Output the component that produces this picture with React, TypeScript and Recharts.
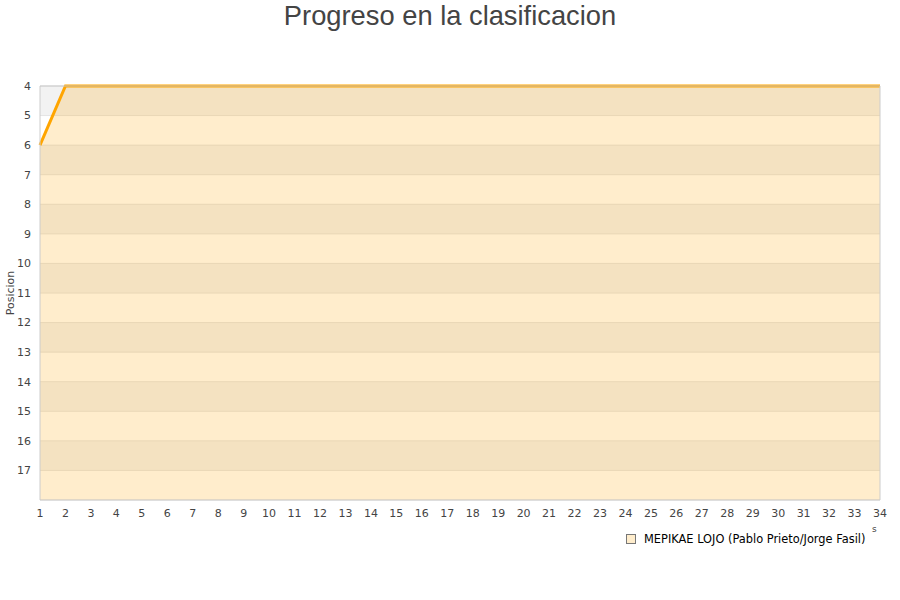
import React from 'react';
import {
  ComposedChart, Area, XAxis, YAxis, CartesianGrid, ReferenceLine, Label
} from 'recharts';

// --- DATA ---
const rounds = [
  1, 2, 3, 4, 5, 6, 7, 8, 9, 10, 11, 12, 13, 14, 15, 16, 17,
  18, 19, 20, 21, 22, 23, 24, 25, 26, 27, 28, 29, 30, 31, 32, 33, 34
];
const positions = [
  6, 4, 4, 4, 4, 4, 4, 4, 4, 4, 4, 4, 4, 4, 4, 4, 4,
  4, 4, 4, 4, 4, 4, 4, 4, 4, 4, 4, 4, 4, 4, 4, 4, 4
];
const yTicks = [4, 5, 6, 7, 8, 9, 10, 11, 12, 13, 14, 15, 16, 17];
const seriesName = 'MEPIKAE LOJO (Pablo Prieto/Jorge Fasil)';
const chartTitle = 'Progreso en la clasificacion';
const yAxisTitle = 'Posicion';

const data = rounds.map((r, i) => ({ round: r, pos: positions[i] }));

const tickStyle = { fontFamily: 'DejaVu Sans', fontSize: 11, fill: '#444' };

const App = () => {
  return (
    <div style={{ position: 'absolute', left: 0, top: 0, width: 900, height: 600, background: '#fff' }}>
      <div
        style={{
          position: 'absolute', left: 0, top: 0, width: 900, textAlign: 'center',
          fontFamily: '"Liberation Sans", Arial, sans-serif', fontSize: 27.3,
          lineHeight: '32px', color: '#444'
        }}
      >
        {chartTitle}
      </div>

      <ComposedChart
        width={900}
        height={600}
        data={data}
        margin={{ top: 86, right: 20, bottom: 70, left: 0 }}
      >
        <CartesianGrid
          vertical={false}
          stroke="#e4e4e4"
          horizontalFill={['#f2f2f2', '#ffffff']}
          fillOpacity={1}
        />
        <XAxis
          dataKey="round"
          type="number"
          domain={[1, 34]}
          ticks={rounds}
          interval={0}
          height={30}
          tickSize={0}
          tickMargin={9}
          tick={tickStyle}
          axisLine={{ stroke: '#ccc' }}
        />
        <YAxis
          type="number"
          domain={[4, 18]}
          reversed
          ticks={yTicks}
          interval={0}
          width={40}
          tickSize={0}
          tickMargin={9}
          tick={tickStyle}
          axisLine={{ stroke: '#ccc' }}
        >
          <Label
            content={(props: any) => {
              const vb = props.viewBox || {};
              const cy = (vb.y || 86) + (vb.height || 414) / 2;
              return (
                <text
                  x={14}
                  y={cy}
                  transform={`rotate(-90, 14, ${cy})`}
                  textAnchor="middle"
                  style={{ fontFamily: 'DejaVu Sans', fontSize: 11, fill: '#444' }}
                >
                  {yAxisTitle}
                </text>
              );
            }}
          />
        </YAxis>
        <ReferenceLine x={34} stroke="#ccc" />
        <Area
          type="linear"
          dataKey="pos"
          name={seriesName}
          baseValue={18}
          stroke="#ffa500"
          strokeWidth={3}
          fill="#ffa500"
          fillOpacity={0.2}
          dot={false}
          activeDot={false}
          isAnimationActive={false}
        />
        <ReferenceLine y={4} stroke="#c8c8c8" strokeWidth={1} zIndex={500} />
      </ComposedChart>

      <div
        style={{
          position: 'absolute', left: 626, top: 532, display: 'flex', alignItems: 'center',
          fontFamily: 'DejaVu Sans', fontSize: 11.4, color: '#000'
        }}
      >
        <span
          style={{
            display: 'inline-block', width: 8, height: 8, background: '#ffedcc',
            border: '1px solid #777', marginRight: 8
          }}
        />
        {seriesName}
      </div>
      <div
        style={{
          position: 'absolute', left: 872, top: 524, fontFamily: 'DejaVu Sans',
          fontSize: 9, color: '#444'
        }}
      >
        s
      </div>
    </div>
  );
};

export default App;
